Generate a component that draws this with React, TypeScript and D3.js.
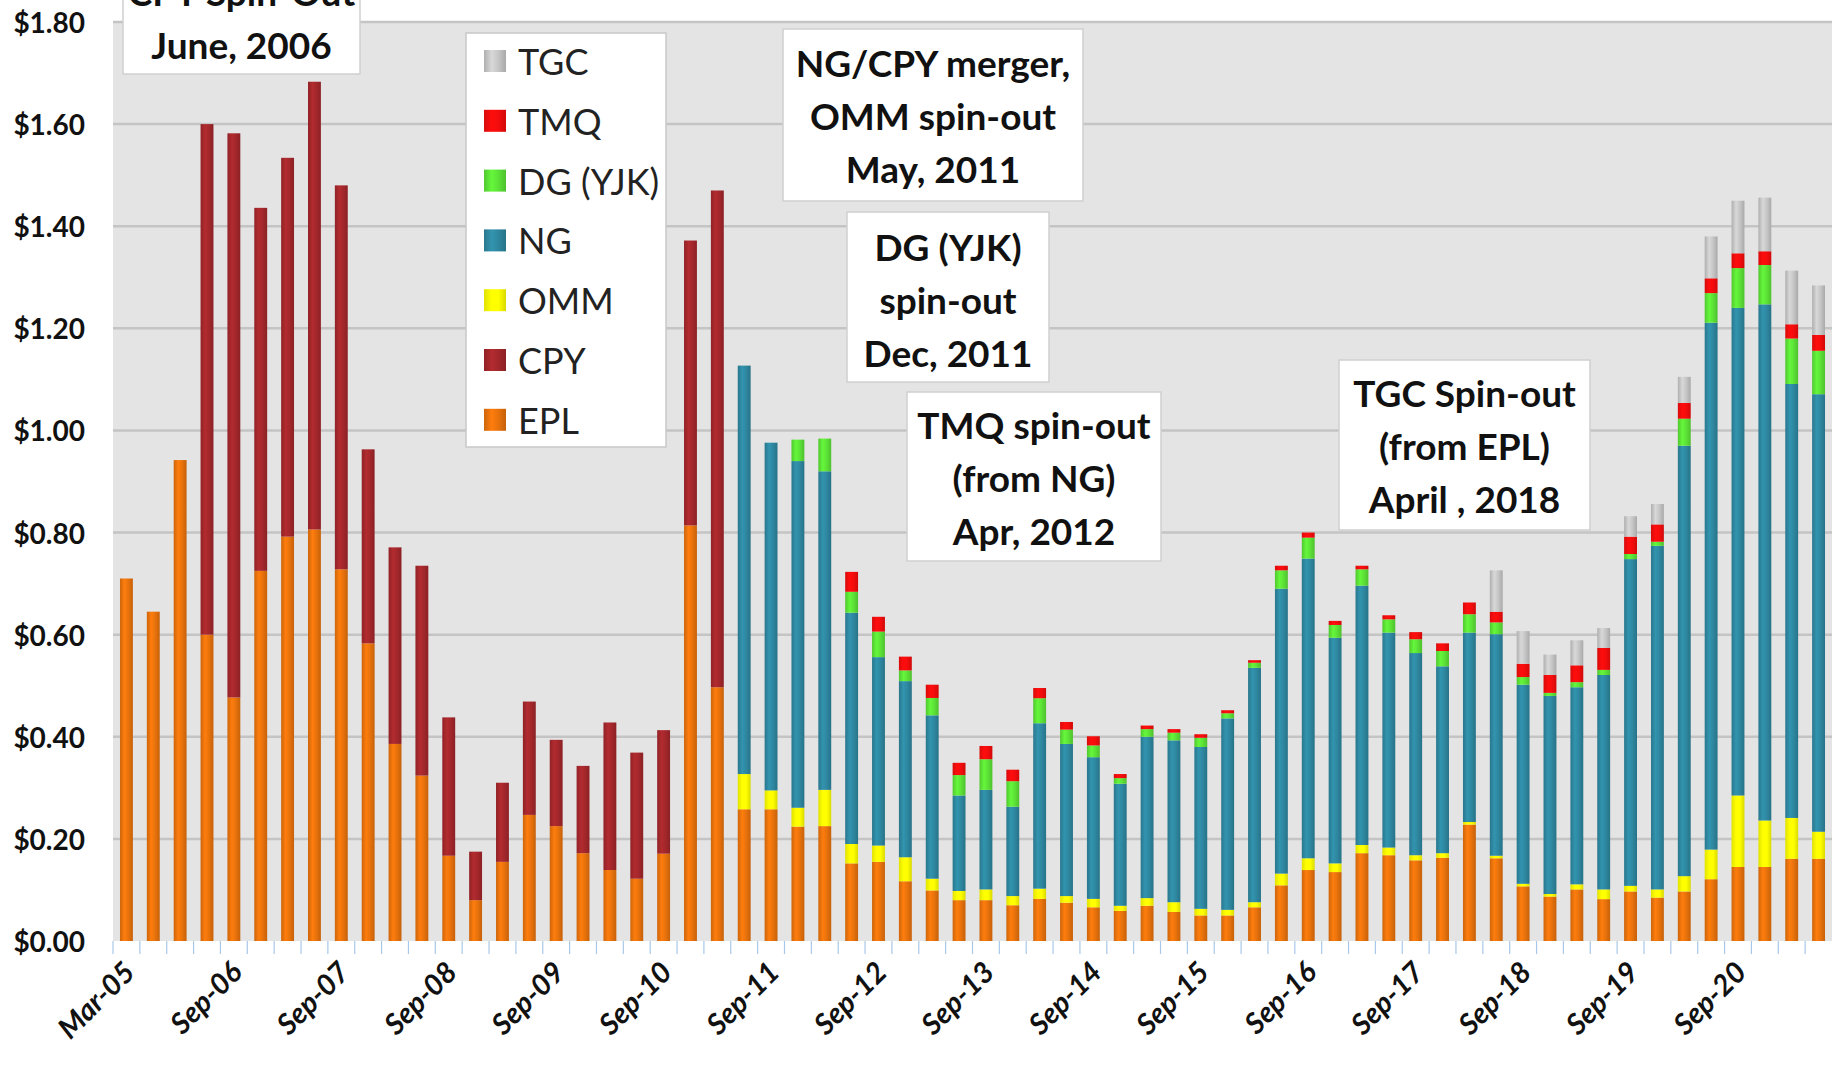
import React, { useMemo } from 'react';
import * as d3 from 'd3';

// ─── data (dividend per quarter, USD) ───────────────────────────────────────

const quarters = [
  'Mar-05', 'Sep-05', 'Mar-06', 'Jun-06', 'Sep-06', 'Dec-06', 'Mar-07', 'Jun-07',
  'Sep-07', 'Dec-07', 'Mar-08', 'Jun-08', 'Sep-08', 'Dec-08', 'Mar-09', 'Jun-09',
  'Sep-09', 'Dec-09', 'Mar-10', 'Jun-10', 'Sep-10', 'Dec-10', 'Mar-11', 'Jun-11',
  'Sep-11', 'Dec-11', 'Mar-12', 'Jun-12', 'Sep-12', 'Dec-12', 'Mar-13', 'Jun-13',
  'Sep-13', 'Dec-13', 'Mar-14', 'Jun-14', 'Sep-14', 'Dec-14', 'Mar-15', 'Jun-15',
  'Sep-15', 'Dec-15', 'Mar-16', 'Jun-16', 'Sep-16', 'Dec-16', 'Mar-17', 'Jun-17',
  'Sep-17', 'Dec-17', 'Mar-18', 'Jun-18', 'Sep-18', 'Dec-18', 'Mar-19', 'Jun-19',
  'Sep-19', 'Dec-19', 'Mar-20', 'Jun-20', 'Sep-20', 'Dec-20', 'Mar-21', 'Jun-21',
];

const epl = [
  0.71, 0.645, 0.942, 0.6, 0.477, 0.725, 0.792, 0.806, 0.728, 0.583,
  0.386, 0.324, 0.167, 0.08, 0.155, 0.247, 0.225, 0.172, 0.139, 0.122,
  0.171, 0.814, 0.497, 0.258, 0.258, 0.224, 0.225, 0.152, 0.155, 0.117,
  0.099, 0.08, 0.08, 0.07, 0.0825, 0.075, 0.066, 0.059, 0.069, 0.057,
  0.05, 0.05, 0.066, 0.109, 0.139, 0.135, 0.172, 0.168, 0.158, 0.163,
  0.228, 0.162, 0.107, 0.087, 0.101, 0.082, 0.097, 0.085, 0.097, 0.121,
  0.145, 0.145, 0.161, 0.161,
];
const cpy = [
  0, 0, 0, 1.0, 1.105, 0.711, 0.742, 0.877, 0.752, 0.38,
  0.385, 0.411, 0.271, 0.095, 0.155, 0.222, 0.169, 0.171, 0.289, 0.247,
  0.242, 0.558, 0.973, 0, 0, 0, 0, 0, 0, 0,
  0, 0, 0, 0, 0, 0, 0, 0, 0, 0,
  0, 0, 0, 0, 0, 0, 0, 0, 0, 0,
  0, 0, 0, 0, 0, 0, 0, 0, 0, 0,
  0, 0, 0, 0,
];
const omm = [
  0, 0, 0, 0, 0, 0, 0, 0, 0, 0,
  0, 0, 0, 0, 0, 0, 0, 0, 0, 0,
  0, 0, 0, 0.069, 0.037, 0.037, 0.071, 0.038, 0.032, 0.047,
  0.023, 0.018, 0.021, 0.018, 0.02, 0.013, 0.0165, 0.01, 0.015, 0.019,
  0.013, 0.011, 0.01, 0.023, 0.023, 0.017, 0.016, 0.015, 0.01, 0.009,
  0.005, 0.005, 0.005, 0.005, 0.01, 0.019, 0.011, 0.016, 0.03, 0.058,
  0.14, 0.091, 0.08, 0.053,
];
const ng = [
  0, 0, 0, 0, 0, 0, 0, 0, 0, 0,
  0, 0, 0, 0, 0, 0, 0, 0, 0, 0,
  0, 0, 0, 0.8, 0.681, 0.679, 0.624, 0.453, 0.369, 0.345,
  0.32, 0.187, 0.195, 0.175, 0.324, 0.298, 0.2775, 0.239, 0.316, 0.317,
  0.317, 0.375, 0.459, 0.558, 0.587, 0.442, 0.508, 0.421, 0.396, 0.366,
  0.371, 0.434, 0.39, 0.388, 0.386, 0.42, 0.64, 0.673, 0.843, 1.032,
  0.955, 1.011, 0.85, 0.857,
];
const dg = [
  0, 0, 0, 0, 0, 0, 0, 0, 0, 0,
  0, 0, 0, 0, 0, 0, 0, 0, 0, 0,
  0, 0, 0, 0, 0, 0.042, 0.064, 0.041, 0.05, 0.021,
  0.034, 0.04, 0.06, 0.05, 0.049, 0.028, 0.023, 0.011, 0.015, 0.015,
  0.018, 0.01, 0.01, 0.036, 0.041, 0.025, 0.032, 0.026, 0.027, 0.03,
  0.036, 0.023, 0.015, 0.006, 0.01, 0.01, 0.01, 0.008, 0.053, 0.058,
  0.078, 0.077, 0.089, 0.085,
];
const tmq = [
  0, 0, 0, 0, 0, 0, 0, 0, 0, 0,
  0, 0, 0, 0, 0, 0, 0, 0, 0, 0,
  0, 0, 0, 0, 0, 0, 0, 0.039, 0.029, 0.027,
  0.026, 0.024, 0.026, 0.0225, 0.02, 0.015, 0.018, 0.008, 0.007, 0.007,
  0.007, 0.006, 0.005, 0.009, 0.01, 0.008, 0.007, 0.008, 0.014, 0.015,
  0.023, 0.021, 0.026, 0.035, 0.033, 0.043, 0.034, 0.034, 0.031, 0.029,
  0.029, 0.027, 0.028, 0.031,
];
const tgc = [
  0, 0, 0, 0, 0, 0, 0, 0, 0, 0,
  0, 0, 0, 0, 0, 0, 0, 0, 0, 0,
  0, 0, 0, 0, 0, 0, 0, 0, 0, 0,
  0, 0, 0, 0, 0, 0, 0, 0, 0, 0,
  0, 0, 0, 0, 0, 0, 0, 0, 0, 0,
  0, 0.081, 0.064, 0.04, 0.049, 0.039, 0.04, 0.04, 0.051, 0.082,
  0.103, 0.105, 0.105, 0.097,
];

const yTicks = [0, 0.2, 0.4, 0.6, 0.8, 1.0, 1.2, 1.4, 1.6, 1.8];

// stack order bottom → top; legend reads top → bottom
const series = [
  { key: 'EPL', label: 'EPL', values: epl, color: '#e8720c' },
  { key: 'CPY', label: 'CPY', values: cpy, color: '#a3272b' },
  { key: 'OMM', label: 'OMM', values: omm, color: '#ffff00' },
  { key: 'NG', label: 'NG', values: ng, color: '#2e87a0' },
  { key: 'DG', label: 'DG (YJK)', values: dg, color: '#5ce236' },
  { key: 'TMQ', label: 'TMQ', values: tmq, color: '#f40c0c' },
  { key: 'TGC', label: 'TGC', values: tgc, color: '#c6c6c6' },
];

// first box runs off the top edge, as in the source image
const notes = [
  { lines: ['CPY Spin-Out', 'June, 2006'], box: [123, -70, 360, 74], y0: -9 },
  { lines: ['NG/CPY merger,', 'OMM spin-out', 'May, 2011'], box: [783, 29, 1083, 201], y0: 62 },
  { lines: ['DG (YJK)', 'spin-out', 'Dec, 2011'], box: [847, 212, 1049, 382], y0: 246 },
  { lines: ['TMQ spin-out', '(from NG)', 'Apr, 2012'], box: [907, 392, 1161, 561], y0: 424 },
  { lines: ['TGC Spin-out', '(from EPL)', 'April , 2018'], box: [1339, 360, 1590, 530], y0: 392 },
];

// ─── layout ─────────────────────────────────────────────────────────────────

const W = 1835;
const H = 1074;
const PL = 113;
const PR = 1832;
const PT = 22;
const PB = 941;
const FONT = 'Lato, "Open Sans", sans-serif';
const LINE_H = 53;

export default function App() {
  const x = useMemo(
    () => d3.scaleBand<string>().domain(quarters).range([PL, PR]).paddingInner(0.52).paddingOuter(0.26),
    [],
  );
  const y = useMemo(() => d3.scaleLinear().domain([0, 1.8]).range([PB, PT]), []);
  const fmt = d3.format('$.2f');

  const layers = useMemo(() => {
    const rows = quarters.map((q, i) => {
      const r: Record<string, any> = { q };
      for (const s of series) r[s.key] = s.values[i];
      return r;
    });
    return d3.stack<Record<string, any>>().keys(series.map(s => s.key))(rows);
  }, []);

  const bw = x.bandwidth();
  const step = x.step();

  return (
    <div style={{ position: 'absolute', left: 0, top: 0 }}>
      <svg width={W} height={H} style={{ display: 'block', background: '#fff' }} fontFamily={FONT}>
        <defs>
          {series.map(s => {
            const c = d3.color(s.color)!;
            return (
              <linearGradient key={s.key} id={`g-${s.key}`} x1="0" x2="1" y1="0" y2="0">
                <stop offset="0%" stopColor={c.darker(0.35).formatHex()} />
                <stop offset="35%" stopColor={c.brighter(0.25).formatHex()} />
                <stop offset="65%" stopColor={s.color} />
                <stop offset="100%" stopColor={c.darker(0.45).formatHex()} />
              </linearGradient>
            );
          })}
        </defs>

        {/* plot area + grid */}
        <rect x={PL} y={PT} width={PR - PL} height={PB - PT} fill="#e4e4e4" />
        {yTicks.filter(t => t > 0).map(t => (
          <line key={t} x1={PL} x2={PR} y1={y(t)} y2={y(t)} stroke="#c4c4c4" strokeWidth={2.5} />
        ))}

        {/* category ticks */}
        {quarters.map((q, i) => (
          <line
            key={q}
            x1={PL + i * step}
            x2={PL + i * step}
            y1={PB}
            y2={PB + 13}
            stroke="#a9c8e8"
            strokeWidth={1.2}
          />
        ))}

        {/* bars */}
        {layers.map(layer => (
          <g key={layer.key} fill={`url(#g-${layer.key})`}>
            {layer.map(d => {
              const v = d[1] - d[0];
              if (!(v > 0)) return null;
              return (
                <rect
                  key={d.data.q}
                  x={x(d.data.q)}
                  y={y(d[1])}
                  width={bw}
                  height={y(d[0]) - y(d[1])}
                />
              );
            })}
          </g>
        ))}

        {/* y axis labels */}
        {yTicks.map(t => (
          <text
            key={t}
            x={85}
            y={y(t)}
            textAnchor="end"
            dominantBaseline="central"
            fontSize={28}
            fontWeight={700}
            fill="#111"
          >
            {fmt(t)}
          </text>
        ))}

        {/* x axis labels, every 4th category */}
        {quarters.map((q, i) =>
          i % 4 === 0 ? (
            <text
              key={q}
              transform={`translate(${(x(q) ?? 0) + bw / 2 + 2},${966}) rotate(-45)`}
              textAnchor="end"
              dominantBaseline="central"
              fontSize={29}
              fontWeight={700}
              fontStyle="italic"
              fill="#111"
            >
              {q}
            </text>
          ) : null,
        )}

        {/* legend */}
        <rect x={466} y={33} width={200} height={414} fill="#fff" stroke="#c8c8c8" strokeWidth={1.5} />
        {[...series].reverse().map((s, i) => (
          <g key={s.key} transform={`translate(484,${61 + i * 59.8})`}>
            <rect x={0} y={-11} width={22} height={22} fill={`url(#g-${s.key})`} />
            <text x={34} y={0} dominantBaseline="central" fontSize={36} fill="#222">
              {s.label}
            </text>
          </g>
        ))}

        {/* annotations */}
        {notes.map((n, k) => {
          const [x0, y0, x1, y1] = n.box;
          const cx = (x0 + x1) / 2;
          return (
            <g key={k}>
              <rect x={x0} y={y0} width={x1 - x0} height={y1 - y0} fill="#fff" stroke="#cfcfcf" strokeWidth={1.5} />
              {n.lines.map((l, j) => (
                <text
                  key={j}
                  x={cx}
                  y={n.y0 + j * LINE_H}
                  textAnchor="middle"
                  dominantBaseline="central"
                  fontSize={37}
                  fontWeight={700}
                  fill="#111"
                >
                  {l}
                </text>
              ))}
            </g>
          );
        })}
      </svg>
    </div>
  );
}
